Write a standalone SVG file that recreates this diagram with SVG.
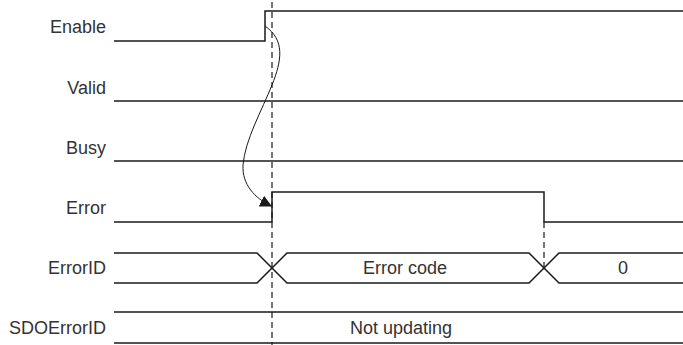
<svg xmlns="http://www.w3.org/2000/svg" width="683" height="345" viewBox="0 0 683 345">
<style>
.sig{fill:none;stroke:#1a1a1a;stroke-width:1.5}
.dash{fill:none;stroke:#1a1a1a;stroke-width:1.2;stroke-dasharray:6 4}
.lbl{font-family:"Liberation Sans",Arial,sans-serif;font-size:18px;fill:#333;text-anchor:end}
.val{font-family:"Liberation Sans",Arial,sans-serif;font-size:18px;fill:#333;text-anchor:middle}
</style>
<defs>
<marker id="ah" viewBox="0 0 10 10" refX="9" refY="5" markerWidth="12" markerHeight="12" markerUnits="userSpaceOnUse" orient="auto">
<path d="M0,0 L10,5 L0,10 Z" fill="#1a1a1a"/>
</marker>
</defs>
<g id="labels">
<text class="lbl" x="106" y="33">Enable</text>
<text class="lbl" x="106" y="94">Valid</text>
<text class="lbl" x="106" y="154">Busy</text>
<text class="lbl" x="106" y="214">Error</text>
<text class="lbl" x="106" y="274">ErrorID</text>
<text class="lbl" x="106" y="334">SDOErrorID</text>
</g>
<g id="enable"><path class="sig" d="M114,41 H265 V11 H683"/></g>
<g id="valid"><path class="sig" d="M114,101 H683"/></g>
<g id="busy"><path class="sig" d="M114,161 H683"/></g>
<g id="error"><path class="sig" d="M114,222 H272 V192 H544 V222 H683"/></g>
<g id="errorid">
<path class="sig" d="M114,253 H257 L287,283 H529 L559,253 H683"/>
<path class="sig" d="M114,283 H257 L287,253 H529 L559,283 H683"/>
<text class="val" x="405" y="274">Error code</text>
<text class="val" x="623" y="274">0</text>
</g>
<g id="sdoerrorid">
<path class="sig" d="M114,312 H683"/>
<path class="sig" d="M114,343 H683"/>
<text class="val" x="401" y="334">Not updating</text>
</g>
<g id="connectors">
<path class="dash" d="M272,2 V345"/>
<path class="dash" d="M544,222 V268"/>
<path fill="none" stroke="#1a1a1a" stroke-width="1" d="M265,26 C285,40 282,60 272,85 C262,110 245,140 243,165 C242,185 255,198 271,206" marker-end="url(#ah)"/>
</g>
</svg>
